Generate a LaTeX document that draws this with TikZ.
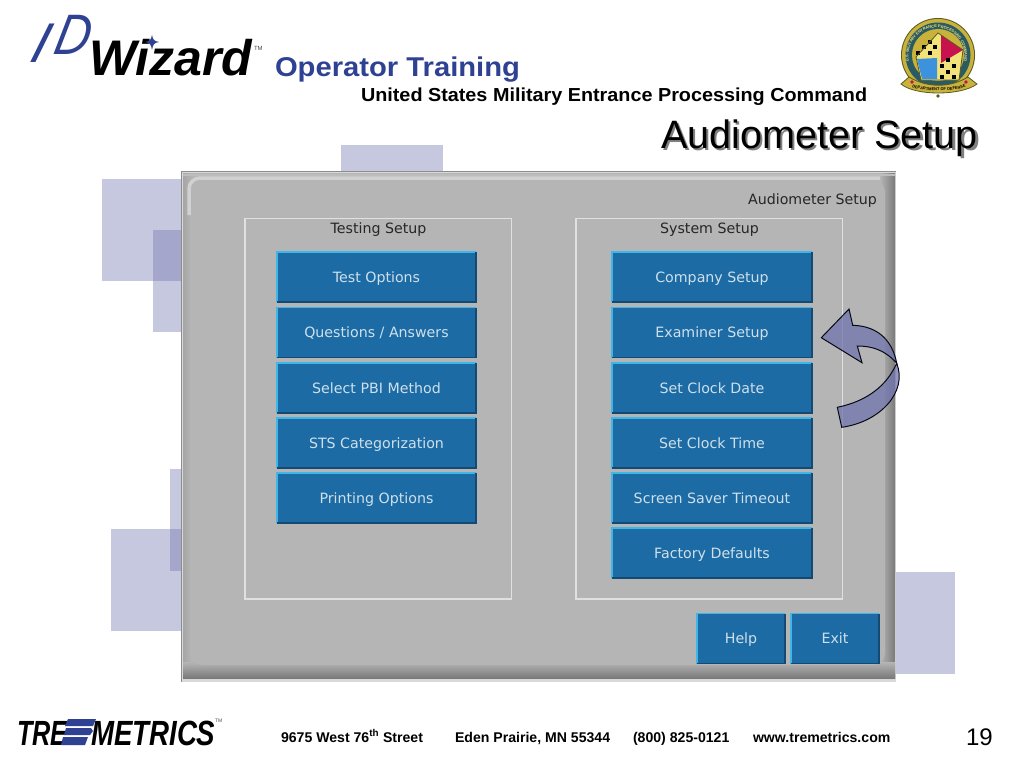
\documentclass[tikz,border=0pt]{standalone}
\usepackage{fontspec}
\setmainfont{Liberation Sans}
\newfontfamily\panelfont{DejaVu Sans}
\usetikzlibrary{decorations.text}
\definecolor{sqlight}{HTML}{C5C8DE}
\definecolor{sqdark}{HTML}{A4A7CB}
\definecolor{panelgray}{HTML}{B5B5B5}
\definecolor{btnfill}{HTML}{1C6BA4}
\definecolor{btnlight}{HTML}{3FB6E8}
\definecolor{btndark}{HTML}{124A74}
\definecolor{btntext}{HTML}{CFE0EC}
\definecolor{navy}{HTML}{2F4192}
\definecolor{arrowfill}{HTML}{7074AC}
\definecolor{sealgold}{HTML}{C9B23C}
\definecolor{sealdark}{HTML}{5A5A1E}
\definecolor{sealring}{HTML}{2A5A62}
\definecolor{sealyellow}{HTML}{F2E27A}
\definecolor{sealred}{HTML}{C8124E}
\definecolor{sealblue}{HTML}{3C92DC}
\tikzset{
  plain/.style={inner sep=0pt,outer sep=0pt},
  paneltext/.style={font=\panelfont\fontsize{14.2}{16}\selectfont,text height=12pt,text depth=2pt},
  btn/.style={plain,paneltext,fill=btnfill,text=btntext,align=center},
  grouptitle/.style={plain,paneltext,text=black!85},
  groupbox/.style={draw=white!88!black,line width=1.2pt},
  foot/.style={plain,anchor=base west,font=\bfseries\fontsize{14.1}{16}\selectfont},
  arrowpart/.style={draw=black!85!navy,line width=1pt,fill=arrowfill,fill opacity=.75,line join=miter},
}
\newcommand{\uibtn}[6]{%
  \node[btn,minimum width=#4pt,minimum height=#5pt,anchor=north west] (#1) at (#2,#3) {#6};
  \draw[btnlight,line width=1.4pt] (#1.south west) -- (#1.north west) -- (#1.north east);
  \draw[btndark,line width=1.3pt] (#1.south west) -- (#1.south east) -- (#1.north east);
}
\begin{document}
\begin{tikzpicture}[x=1pt,y=-1pt]
\useasboundingbox (0,0) rectangle (1024,768);
\fill[white] (0,0) rectangle (1024,768);
% background squares
\fill[sqlight] (341,145) rectangle (443,247);
\fill[sqlight] (102,179) rectangle (204,281);
\fill[sqlight] (153,230) rectangle (255,332);
\fill[sqdark] (153,230) rectangle (204,281);
\fill[sqlight] (170,469) rectangle (272,571);
\fill[sqlight] (111,529) rectangle (213,631);
\fill[sqdark] (170,529) rectangle (213,571);
\fill[sqlight] (853,572) rectangle (955,674);
% panel
\fill[white!85!black] (181,171) rectangle (896,682);
\draw[black!45,line width=.8pt] (181.5,681.5) -- (181.5,171.5) -- (895.5,171.5);
\fill[panelgray] (183,173) rectangle (895,679);
\shade[left color=black!35,right color=panelgray] (183,173) rectangle (192,677);
\shade[left color=panelgray,right color=black!52] (880,173) rectangle (895,677);
\shade[top color=panelgray,bottom color=black!52] (183,662) rectangle (895,678);
\fill[panelgray,rounded corners=12pt] (190,180) rectangle (885,665);
\draw[white!82!black,line width=3.5pt,rounded corners=11pt] (189,215) -- (189,178) -- (880,178);
\draw[white!74!black,line width=2pt] (183,174.5) -- (895,174.5);
% group boxes
\draw[groupbox] (245,218.5) rectangle (511.5,599);
\draw[groupbox] (576,218.5) rectangle (842.5,599);
\node[grouptitle] (testtitle) at (378.5,228) {Testing Setup};
\node[grouptitle] (systitle) at (709.5,228) {System Setup};
\node[grouptitle,anchor=east] (paneltitle) at (877,199) {Audiometer Setup};
% buttons
\uibtn{b1}{277}{252}{199}{50}{Test Options}
\uibtn{b2}{277}{307.5}{199}{50}{Questions / Answers}
\uibtn{b3}{277}{363}{199}{50}{Select PBI Method}
\uibtn{b4}{277}{418}{199}{50}{STS Categorization}
\uibtn{b5}{277}{473}{199}{50}{Printing Options}
\uibtn{c1}{612}{252}{200}{50}{Company Setup}
\uibtn{c2}{612}{307.5}{200}{50}{Examiner Setup}
\uibtn{c3}{612}{363}{200}{50}{Set Clock Date}
\uibtn{c4}{612}{418}{200}{50}{Set Clock Time}
\uibtn{c5}{612}{473}{200}{50}{Screen Saver Timeout}
\uibtn{c6}{612}{528}{200}{50}{Factory Defaults}
\uibtn{help}{697}{613.5}{88}{50}{Help}
\uibtn{exit}{791}{613.5}{88}{50}{Exit}
% curved arrow
\draw[arrowpart]
  (896.7,363.3) .. controls (908,392) and (880,422) .. (841.7,427.3)
  -- (837.3,407.3) .. controls (868,401) and (887,385) .. (896.7,363.3) -- cycle;
\draw[arrowpart]
  (821.3,337.7) -- (849,309) -- (852.7,325.3)
  .. controls (880,326) and (893,343) .. (896.7,363.3)
  .. controls (885,350) and (872,346) .. (857.3,346)
  -- (862,362.7) -- cycle;
% header text
\node[plain,anchor=base west,text=navy,font=\bfseries\fontsize{29.2}{31}\selectfont,yscale=.93] (optr) at (275,76) {Operator Training};
\node[plain,anchor=base west,font=\bfseries\fontsize{19.8}{22}\selectfont,yscale=.95] (usmepc) at (361,101) {United States Military Entrance Processing Command};
\node[plain,anchor=base west,text=black!50,font=\fontsize{39.6}{42}\selectfont] (titleshadow) at (663.5,150.5) {Audiometer Setup};
\node[plain,anchor=base west,font=\fontsize{39.6}{42}\selectfont] (title) at (661,148) {Audiometer Setup};
% ID Wizard logo
\node[plain,anchor=base west,text=navy,font=\itshape\fontsize{56}{56}\selectfont,xslant=.3] (idi) at (28,63) {I};
\node[plain,anchor=base west,text=navy,font=\itshape\fontsize{57}{57}\selectfont,xslant=.22,xscale=.85] (idd) at (52,55) {D};
\node[plain,anchor=base west,font=\bfseries\itshape\fontsize{50}{50}\selectfont] (wiz) at (89,75) {Wizard};
\fill[navy] (152,35) .. controls (153,40) and (154,41) .. (159,42) .. controls (154,43) and (153,44) .. (152,50) .. controls (151,44) and (150,43) .. (145,42) .. controls (150,41) and (151,40) .. (152,35) -- cycle;
\node[plain,anchor=west,font=\fontsize{6}{6}\selectfont,text=black!70] (wiztm) at (254,48) {TM};
% seal
\fill[sealdark] (938,55) circle (37);
\fill[sealgold] (938,55) circle (36);
\fill[sealring] (938,55) circle (32.5);
\fill[sealgold] (938,55) circle (26);
\path[decorate,decoration={text along path,text align=center,text={|\bfseries\fontsize{3.9}{5}\selectfont\color{sealyellow}|U.S. MILITARY ENTRANCE PROCESSING COMMAND}}]
  (911.5,68.5) arc[start angle=153,end angle=387,radius=28];
\fill[sealyellow] (938,33) -- (963,50) -- (959,80) -- (921,80) -- (916,57) -- cycle;
\fill[sealred] (941,35) -- (963,50) -- (941,63) -- cycle;
\fill[sealblue] (917,59) -- (937,58) -- (937,79) -- (922,79) -- cycle;
\foreach \cx/\cy in {930/42, 924/47, 935/47, 918/53, 930/53, 948/60, 942/66, 954/66, 948/72, 942/77, 954/77}{
  \fill[black] (\cx-2,\cy-2) rectangle (\cx+2,\cy+2);
}
\draw[sealdark,line width=.8pt] (938,33) -- (963,50) -- (959,80) -- (921,80) -- (916,57) -- cycle;
\draw[sealdark,line width=.8pt,fill=sealgold] (901,84) .. controls (915,96) and (961,96) .. (977,84) -- (968,77) .. controls (950,88) and (927,88) .. (909,77) -- cycle;
\path[decorate,decoration={text along path,text align=center,text={|\bfseries\fontsize{4}{5}\selectfont\color{black}|DEPARTMENT OF DEFENSE}}]
  (906,84.5) .. controls (920,93) and (956,93) .. (972,84.5);
\fill[sealred] (912,82) circle (1.8);
\fill[sealred] (966,82) circle (1.8);
\fill[sealdark] (938,96) circle (1.8);
% footer
\node[foot] (addr) at (281,742) {9675 West 76\textsuperscript{th} Street};
\node[foot] (city) at (455,742) {Eden Prairie, MN 55344};
\node[foot] (phone) at (633,742) {(800) 825-0121};
\node[foot] (web) at (753,742) {www.tremetrics.com};
\node[plain,anchor=base west,font=\fontsize{24}{26}\selectfont] (pagenum) at (966,745) {19};
% Tremetrics logo
\node[plain,anchor=base west,font=\bfseries\itshape\fontsize{35}{35}\selectfont,xscale=.72] (tre) at (17,745) {TRE};
\node[plain,anchor=base west,font=\bfseries\itshape\fontsize{35}{35}\selectfont,xscale=.79] (metrics) at (91,745) {METRICS};
\fill[navy] (68,719) -- (96,719) -- (93,726) -- (65,726) -- cycle;
\fill[navy] (66,728) -- (91,728) -- (93,731) -- (90,735) -- (64,735) -- cycle;
\fill[navy] (63,737) -- (88,737) -- (85,745) -- (61,745) -- cycle;
\node[plain,anchor=west,font=\fontsize{5}{5}\selectfont,text=black!70] (tretm) at (215,721) {TM};
\end{tikzpicture}
\end{document}
